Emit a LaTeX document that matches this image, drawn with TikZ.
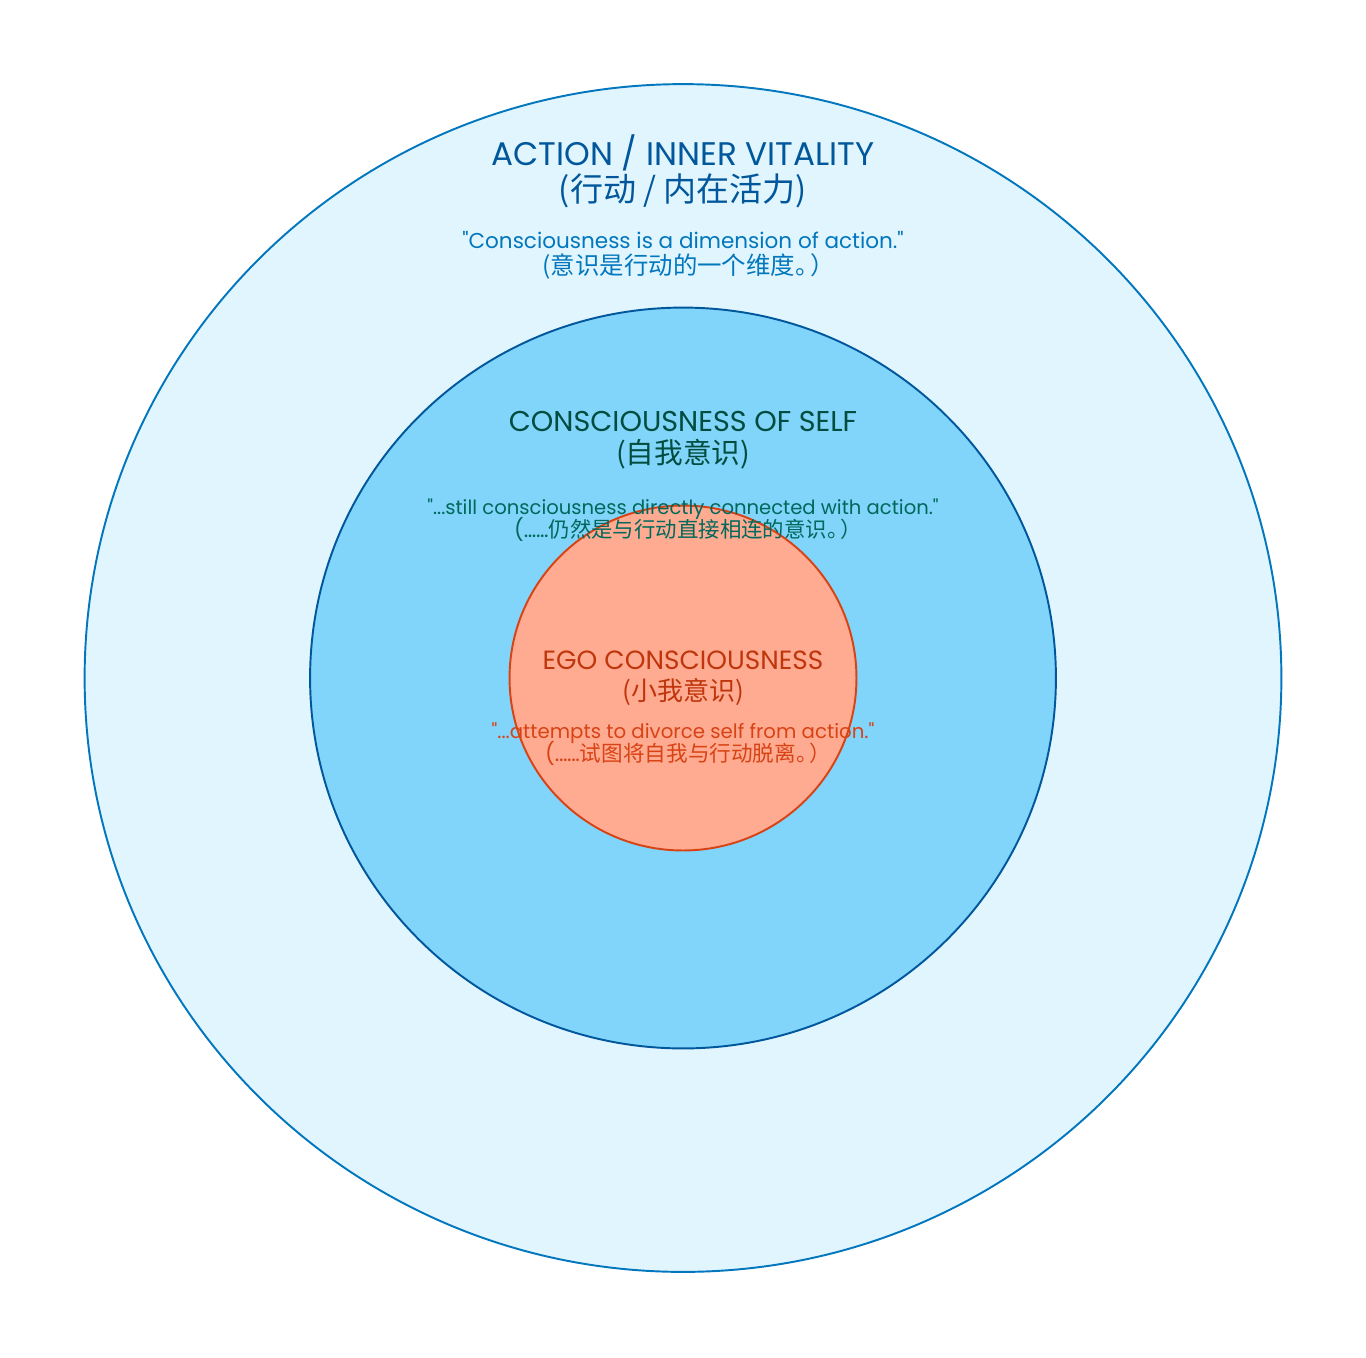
\documentclass[tikz,border=0pt]{standalone}
\usepackage{fontspec}
\setmainfont{Poppins}[Ligatures=TeXOff]
\newfontfamily\cjk{Noto Sans CJK SC}[RawFeature=+palt]
\usetikzlibrary{positioning,shapes.geometric}
\definecolor{aFill}{HTML}{E1F5FE}
\definecolor{aLine}{HTML}{0277BD}
\definecolor{aText}{HTML}{01579B}
\definecolor{aQuote}{HTML}{0277BD}
\definecolor{sFill}{HTML}{81D4FA}
\definecolor{sLine}{HTML}{01579B}
\definecolor{sText}{HTML}{004D40}
\definecolor{sQuote}{HTML}{00695C}
\definecolor{eFill}{HTML}{FFAB91}
\definecolor{eLine}{HTML}{D84315}
\definecolor{eText}{HTML}{BF360C}
\definecolor{eQuote}{HTML}{D84315}
\newcommand{\Fsz}[1]{\fontsize{#1}{#1}\selectfont}
\newcommand{\Dots}{{\normalfont(\addfontfeature{LetterSpace=-2}......}}
\newcommand{\Stop}{。\kern.15em）}
\tikzset{
  ring/.style={ellipse, draw=#1Line, fill=#1Fill, line width=1.1pt, inner sep=0pt},
  head/.style={anchor=base, inner sep=0pt, align=center},
  ttlA/.style={head, text=aText, font=\Fsz{18.6pt}},
  ttlS/.style={head, text=sText, font=\Fsz{16.3pt}},
  ttlE/.style={head, text=eText, font=\Fsz{15pt}},
  cnA/.style={head, text=aText, font=\cjk\Fsz{18.8pt}},
  cnS/.style={head, text=sText, font=\cjk\Fsz{16.3pt}},
  cnE/.style={head, text=eText, font=\cjk\Fsz{14.8pt}},
  qtA/.style={head, text=aQuote, font=\Fsz{12.25pt}},
  qtS/.style={head, text=sQuote, font=\Fsz{11.15pt}},
  qtE/.style={head, text=eQuote, font=\Fsz{11.25pt}},
  qcA/.style={head, text=aQuote, font=\cjk\Fsz{13.9pt}},
  qcS/.style={head, text=sQuote, font=\cjk\Fsz{12.2pt}},
  qcE/.style={head, text=eQuote, font=\cjk\Fsz{12.3pt}},
}

\begin{document}
\begin{tikzpicture}[x=0.02cm, y=-0.02cm]
  \useasboundingbox (0,0) rectangle (1366,1357);
  % the three rings
  \node[ring=a, minimum width=23.94cm, minimum height=23.76cm] (outer) at (683,678) {};
  \node[ring=s, minimum width=14.92cm, minimum height=14.82cm] (self) at (683,678) {};
  \node[ring=e, minimum width=6.94cm, minimum height=6.90cm] (ego) at (683,678) {};
  % action / inner vitality
  \node[ttlA] (actT) at (683,165) {ACTION / INNER VITALITY};
  \node[cnA] (actC) at (683,201) {(行动 / 内在活力)};
  \node[qtA] (actQ) at (683,248) {"Consciousness is a dimension of action."};
  \node[qcA] (actQC) at (683,274) {(意识是行动的一个维度\Stop};
  % consciousness of self
  \node[ttlS] (selfT) at (683,431) {CONSCIOUSNESS OF SELF};
  \node[cnS] (selfC) at (683,463) {(自我意识)};
  \node[qtS] (selfQ) at (683,514) {"...still consciousness directly connected with action."};
  \node[qcS] (selfQC) at (683,537) {\Dots 仍然是与行动直接相连的意识\Stop};
  % ego consciousness
  \node[ttlE] (egoT) at (683,669) {EGO CONSCIOUSNESS};
  \node[cnE] (egoC) at (683,700) {(小我意识)};
  \node[qtE] (egoQ) at (683,738) {"...attempts to divorce self from action."};
  \node[qcE] (egoQC) at (683,761) {\Dots 试图将自我与行动脱离\Stop};
\end{tikzpicture}
\end{document}
